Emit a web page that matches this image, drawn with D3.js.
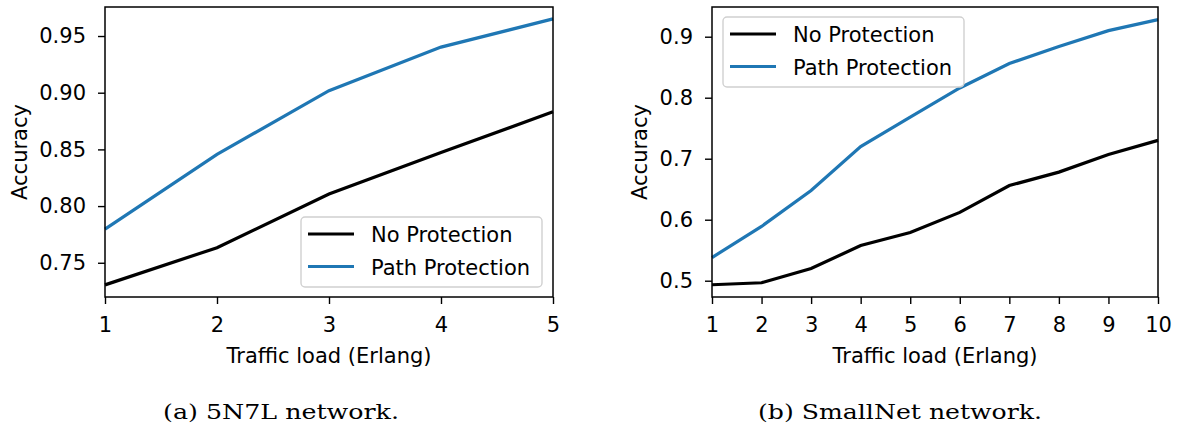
<!DOCTYPE html>
<html>
<head>
<meta charset="utf-8">
<script src="https://cdn.jsdelivr.net/npm/d3@7"></script>
<style>
  body { margin: 0; background: #fff; }
  svg text { font-family: "DejaVu Sans", sans-serif; }
</style>
</head>
<body>
<script>
// panel (a) 5N7L
const loadA = [1, 2, 3, 4, 5];
const noProtA = [0.7305, 0.7633, 0.8107, 0.8473, 0.8831];
const pathProtA = [0.7796, 0.8456, 0.9018, 0.9402, 0.9651];
const yTicksA = [0.75, 0.80, 0.85, 0.90, 0.95];

// panel (b) SmallNet
const loadB = [1, 2, 3, 4, 5, 6, 7, 8, 9, 10];
const noProtB = [0.4934, 0.4967, 0.520, 0.5576, 0.579, 0.612, 0.656, 0.678, 0.707, 0.730];
const pathProtB = [0.538, 0.589, 0.648, 0.720, 0.768, 0.816, 0.856, 0.884, 0.910, 0.928];
const yTicksB = [0.5, 0.6, 0.7, 0.8, 0.9];

const seriesNames = ["No Protection", "Path Protection"];
const seriesColors = ["#000000", "#1f77b4"];

const W = 1178, H = 437;
const plotTop = 7, plotBottom = 297;
const fs = 21;
const svg = d3.select("body").append("svg").attr("width", W).attr("height", H);

function panel(opt) {
  const x = d3.scaleLinear().domain(d3.extent(opt.load)).range([opt.left, opt.right]);
  const y = d3.scaleLinear().domain(opt.yDomain).range([plotBottom, plotTop]);
  const g = svg.append("g");

  const line = d3.line().x(d => x(d[0])).y(d => y(d[1]));
  [opt.noProt, opt.pathProt].forEach((vals, i) => {
    g.append("path")
      .datum(opt.load.map((l, j) => [l, vals[j]]))
      .attr("fill", "none")
      .attr("stroke", seriesColors[i])
      .attr("stroke-width", 3.2)
      .attr("d", line);
  });

  // axes
  const xAxis = g.append("g").attr("transform", `translate(0,${plotBottom})`)
    .call(d3.axisBottom(x).tickValues(opt.load).tickFormat(d3.format("d")).tickSize(7).tickPadding(13));
  const yAxis = g.append("g").attr("transform", `translate(${opt.left},0)`)
    .call(d3.axisLeft(y).tickValues(opt.yTicks).tickFormat(d3.format(opt.fmt)).tickSize(7).tickPadding(12));
  [xAxis, yAxis].forEach(a => {
    a.select(".domain").remove();
    a.selectAll("line").attr("stroke", "#000").attr("stroke-width", 1.4);
    a.selectAll("text").attr("font-size", fs).attr("fill", "#000");
  });

  g.append("rect")
    .attr("x", opt.left).attr("y", plotTop)
    .attr("width", opt.right - opt.left).attr("height", plotBottom - plotTop)
    .attr("fill", "none").attr("stroke", "#000").attr("stroke-width", 1.5);

  g.append("text")
    .attr("x", (opt.left + opt.right) / 2).attr("y", 363)
    .attr("text-anchor", "middle").attr("font-size", fs)
    .text("Traffic load (Erlang)");
  g.append("text")
    .attr("transform", `translate(${opt.ylabX},152) rotate(-90)`)
    .attr("text-anchor", "middle").attr("font-size", fs)
    .text("Accuracy");

  // legend
  const lg = g.append("g").attr("transform", `translate(${opt.legX},${opt.legY})`);
  lg.append("rect")
    .attr("width", 241).attr("height", 70).attr("rx", 4)
    .attr("fill", "#fff").attr("fill-opacity", 0.8)
    .attr("stroke", "#d0d0d0").attr("stroke-width", 1.4);
  seriesNames.forEach((name, i) => {
    const yy = 17 + i * 32.5;
    lg.append("line").attr("x1", 7).attr("x2", 53).attr("y1", yy).attr("y2", yy)
      .attr("stroke", seriesColors[i]).attr("stroke-width", 3.2);
    lg.append("text").attr("x", 70).attr("y", yy + 8).attr("font-size", fs).text(name);
  });

  svg.append("text")
    .attr("x", opt.capX).attr("y", 419)
    .attr("text-anchor", "middle")
    .style("font-family", "'DejaVu Serif', serif")
    .attr("font-size", 21)
    .attr("textLength", opt.capW)
    .attr("lengthAdjust", "spacingAndGlyphs")
    .text(opt.caption);
}

panel({ load: loadA, noProt: noProtA, pathProt: pathProtA, yTicks: yTicksA,
  yDomain: [0.7198, 0.9756], fmt: ".2f", left: 105, right: 553, ylabX: 27,
  legX: 301, legY: 217, capX: 281, capW: 236, caption: "(a) 5N7L network." });

panel({ load: loadB, noProt: noProtB, pathProt: pathProtB, yTicks: yTicksB,
  yDomain: [0.4733, 0.9487], fmt: ".1f", left: 712, right: 1158, ylabX: 647,
  legX: 723, legY: 17, capX: 900, capW: 284, caption: "(b) SmallNet network." });
</script>
</body>
</html>
